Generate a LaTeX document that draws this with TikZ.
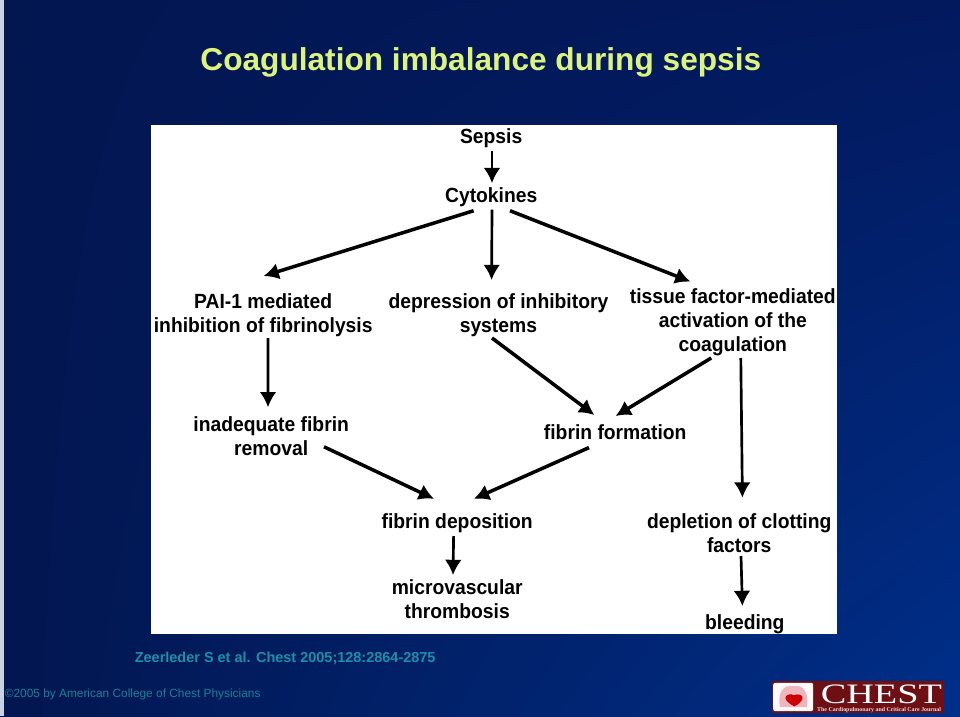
\documentclass[tikz,border=0pt]{standalone}
\usepackage{fontspec}
\setmainfont{Liberation Sans}
\newfontfamily\logofont{Liberation Serif}
\usepackage{xcolor}
\usetikzlibrary{arrows.meta,positioning,shadings}
\definecolor{navy}{HTML}{021650}
\definecolor{midnavy}{HTML}{02195E}
\definecolor{deepblue}{HTML}{002F8A}
\definecolor{titlegreen}{HTML}{DDF37C}
\definecolor{citeteal}{HTML}{1E8FA8}
\definecolor{logored}{HTML}{6E0F14}
\definecolor{lungpink}{HTML}{EFB6BE}
\definecolor{edgegray}{HTML}{C9D2E4}

\begin{document}
\begin{tikzpicture}[
    inner sep=0pt, outer sep=0pt,
    term/.style={font=\fontsize{14.6}{17.2}\selectfont\bfseries, align=center, text=black, xscale=0.94},
    arrow/.style={-{Latex[length=3.8mm,width=4.2mm]}, line width=2.5pt, color=black},
    thinarrow/.style={arrow, line width=1.9pt}
]
    \useasboundingbox (0,0) rectangle (24,-17.9);
    \shade[upper left=navy, upper right=midnavy, lower left=navy, lower right=deepblue] (0,0) rectangle (24,-17.9);
    \fill[edgegray] (0,0) rectangle (0.1,-17.9);
    \fill[white] (3.77,-3.13) rectangle (20.93,-15.85);

    \node[font=\fontsize{22.5}{26}\selectfont\bfseries, text=titlegreen] (title) at (12.02,-1.55) {Coagulation imbalance during sepsis};

    \node[term] (sepsis) at (12.28,-3.45) {Sepsis};
    \node[term, below=1cm of sepsis] (cytokines) {Cytokines};
    \node[term] (pai) at (6.58,-7.88) {PAI-1 mediated\\inhibition of fibrinolysis};
    \node[term, right=0.4cm of pai] (depression) {depression of inhibitory\\systems};
    \node[term] (tissue) at (18.32,-8.06) {tissue factor-mediated\\activation of the\\coagulation};
    \node[term] (removal) at (6.78,-10.9) {inadequate fibrin\\removal};
    \node[term] (formation) at (15.38,-10.8) {fibrin formation};
    \node[term] (deposition) at (11.43,-13.07) {fibrin deposition};
    \node[term] (depletion) at (18.48,-13.32) {depletion of clotting\\factors};
    \node[term] (thrombosis) at (11.43,-14.97) {microvascular\\thrombosis};
    \node[term] (bleeding) at (18.62,-15.6) {bleeding};

    \draw[thinarrow] ([shift={(0.02,-0.325)}]sepsis.center) -- ([shift={(0.02,0.35)}]cytokines.center);
    \draw[arrow] ([shift={(-0.44,-0.34)}]cytokines.center) -- ([shift={(0.01,0.98)}]pai.center);
    \draw[thinarrow] ([shift={(0.02,-0.315)}]cytokines.center) -- ([shift={(-0.17,0.88)}]depression.center);
    \draw[arrow] ([shift={(0.47,-0.34)}]cytokines.center) -- ([shift={(-1.06,1.02)}]tissue.center);
    \draw[thinarrow] ([shift={(0.12,-0.57)}]pai.center) -- ([shift={(-0.08,0.72)}]removal.center);
    \draw[arrow] ([shift={(-0.16,-0.57)}]depression.center) -- ([shift={(-0.52,0.425)}]formation.center);
    \draw[arrow] ([shift={(-0.54,-0.89)}]tissue.center) -- ([shift={(0.01,0.4)}]formation.center);
    \draw[thinarrow] ([shift={(0.2,-0.89)}]tissue.center) -- ([shift={(0.08,0.88)}]depletion.center);
    \draw[arrow] ([shift={(1.32,-0.27)}]removal.center) -- ([shift={(-0.58,0.6)}]deposition.center);
    \draw[arrow] ([shift={(-0.655,-0.39)}]formation.center) -- ([shift={(0.42,0.6)}]deposition.center);
    \draw[thinarrow] ([shift={(-0.09,-0.33)}]deposition.center) -- ([shift={(-0.105,0.595)}]thrombosis.center);
    \draw[thinarrow] ([shift={(0.045,-0.58)}]depletion.center) -- ([shift={(-0.06,0.45)}]bleeding.center);

    \node[font=\fontsize{10.3}{12}\selectfont\bfseries, text=citeteal, anchor=west] (citation) at (3.37,-16.45) {Zeerleder S et al. Chest 2005;128:2864-2875};
    \node[font=\fontsize{8.45}{10}\selectfont, text=citeteal!90!black, anchor=west] (copyright) at (0.12,-17.35) {©2005 by American College of Chest Physicians};

    \node[fill=logored, minimum width=4.3cm, minimum height=0.8cm, anchor=north west] (logo) at (19.3,-17.02) {};
    \fill[white!90!pink, rounded corners=1.5pt] (19.33,-17.07) rectangle (20.33,-17.78);
    \fill[lungpink] (19.5,-17.68) .. controls (19.42,-17.3) and (19.62,-17.12) .. (19.78,-17.15) -- (19.88,-17.15) .. controls (20.05,-17.12) and (20.25,-17.3) .. (20.17,-17.68) -- cycle;
    \fill[red!80!black] (19.86,-17.66) .. controls (19.45,-17.45) and (19.7,-17.3) .. (19.85,-17.38) .. controls (20.05,-17.3) and (20.2,-17.48) .. (19.86,-17.66) -- cycle;
    \node[font=\logofont\fontsize{20}{20}\selectfont, text=white, anchor=west, xscale=1.36] (chest) at (20.52,-17.37) {CHEST};
    \node[font=\logofont\fontsize{4.2}{4}\selectfont\bfseries, text=white!85!logored, anchor=west] (journal) at (20.43,-17.74) {The Cardiopulmonary and Critical Care Journal};
\end{tikzpicture}
\end{document}
